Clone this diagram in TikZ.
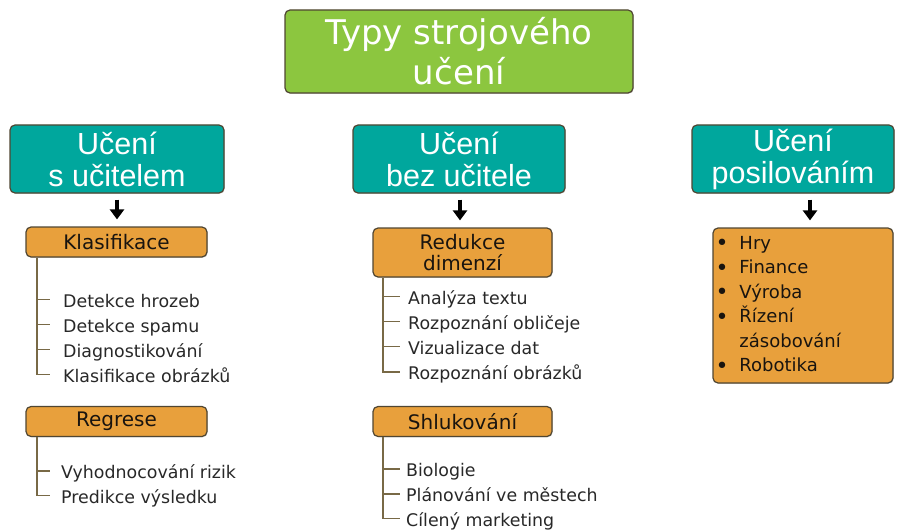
\documentclass[tikz,border=0pt]{standalone}
\usepackage{fontspec}
\setmainfont{DejaVu Sans}
\newfontfamily\hdfont{Liberation Sans}
\usetikzlibrary{arrows.meta,shadows}

\definecolor{titlegreen}{RGB}{140,198,63}
\definecolor{headteal}{RGB}{0,167,157}
\definecolor{catorange}{RGB}{232,160,60}
\definecolor{boxline}{RGB}{80,70,50}
\definecolor{treeline}{RGB}{120,105,70}
\definecolor{itemtext}{RGB}{40,40,40}
\definecolor{cattext}{RGB}{25,20,15}

\newcommand{\bigdot}{\raisebox{-1.8pt}{\fontsize{22}{24.5}\selectfont •}}

\tikzset{
  box/.style={draw=boxline, line width=1.2pt, rounded corners=5pt, inner sep=0pt,
    align=center, drop shadow={shadow xshift=0.8pt, shadow yshift=-0.8pt, opacity=0.3}},
  titlebox/.style={box, fill=titlegreen, text=white, font=\fontsize{34}{40}\selectfont},
  headbox/.style={box, fill=headteal, text=white, font=\hdfont\fontsize{30.5}{32}\selectfont},
  catbox/.style={box, fill=catorange, text=cattext, font=\fontsize{20}{21}\selectfont},
  item/.style={anchor=west, inner sep=0pt, text height=15pt, text depth=0pt,
    text=itemtext, font=\fontsize{17.4}{20}\selectfont},
  tree/.style={draw=treeline, line width=1.5pt},
  downarrow/.style={draw=black, line width=3.4pt, shorten <=6pt, shorten >=7pt,
    -{Triangle[width=14pt,length=10pt]}}
}

\begin{document}
\begin{tikzpicture}[x=1pt,y=-1pt]
\useasboundingbox (0,0) rectangle (897,532);

% title
\node[titlebox, minimum width=348pt, minimum height=83pt] (title) at (459,51.5)
  {Typy strojového\\učení};

% three kinds of learning
\node[headbox, minimum width=214pt, minimum height=68pt] (sup) at (117,159)
  {Učení\\s učitelem};
\node[headbox, minimum width=212pt, minimum height=68pt] (unsup) at (459,159)
  {Učení\\bez učitele};
\node[headbox, minimum width=202pt, minimum height=68pt] (reinf) at (793,159)
  {Učení\\posilováním};

% categories
\node[catbox, minimum width=181pt, minimum height=30pt] (klas) at (116.5,242) {Klasifikace};
\node[catbox, minimum width=181pt, minimum height=30pt] (regr) at (116.5,421.5) {Regrese};
\node[catbox, minimum width=179pt, minimum height=49pt] (redu) at (462.5,252.5) {Redukce\\dimenzí};
\node[catbox, minimum width=179pt, minimum height=30pt] (shluk) at (462.5,421.5) {Shlukování};
\node[catbox, minimum width=180pt, minimum height=155pt, text width=175pt,
  inner xsep=2.5pt, align=left, font=\fontsize{18}{24.5}\selectfont] (apps) at (803,305.5)
  {\begin{tabular}{@{}l@{\hspace{11pt}}l@{}}
   \bigdot & Hry\\
   \bigdot & Finance\\
   \bigdot & Výroba\\
   \bigdot & Řízení\\
     & zásobování\\
   \bigdot & Robotika
   \end{tabular}};

% arrows
\draw[downarrow] (sup.south -| 117,0) -- (klas.north -| 117,0);
\draw[downarrow] (unsup.south -| 460,0) -- (redu.north -| 460,0);
\draw[downarrow] (reinf.south -| 810,0) -- (apps.north -| 810,0);

% supervised: classification
\node[item] (k1) at (63,299.5) {Detekce hrozeb};
\node[item] (k2) at (63,324.5) {Detekce spamu};
\node[item] (k3) at (63,349.5) {Diagnostikování};
\node[item] (k4) at (63,374.5) {Klasifikace obrázků};
\draw[tree] (klas.south -| 37,0) |- ([xshift=-13pt]k4.west);
\foreach \n in {k1,k2,k3}
  \draw[tree] (37,0 |- \n.west) -- ([xshift=-13pt]\n.west);

% supervised: regression
\node[item] (r1) at (61,471) {Vyhodnocování rizik};
\node[item] (r2) at (61,495.5) {Predikce výsledku};
\draw[tree] (regr.south -| 37,0) |- ([xshift=-11pt]r2.west);
\draw[tree] (37,0 |- r1.west) -- ([xshift=-11pt]r1.west);

% unsupervised: dimensionality reduction
\node[item] (d1) at (408,296.5) {Analýza textu};
\node[item] (d2) at (408,321.5) {Rozpoznání obličeje};
\node[item] (d3) at (408,346.5) {Vizualizace dat};
\node[item] (d4) at (408,372) {Rozpoznání obrázků};
\draw[tree] (redu.south -| 383,0) |- ([xshift=-8pt]d4.west);
\foreach \n in {d1,d2,d3}
  \draw[tree] (383,0 |- \n.west) -- ([xshift=-8pt]\n.west);

% unsupervised: clustering
\node[item] (c1) at (406,469) {Biologie};
\node[item] (c2) at (406,494) {Plánování ve městech};
\node[item] (c3) at (406,518.5) {Cílený marketing};
\draw[tree] (shluk.south -| 383,0) |- ([xshift=-6pt]c3.west);
\foreach \n in {c1,c2}
  \draw[tree] (383,0 |- \n.west) -- ([xshift=-6pt]\n.west);
\end{tikzpicture}
\end{document}
